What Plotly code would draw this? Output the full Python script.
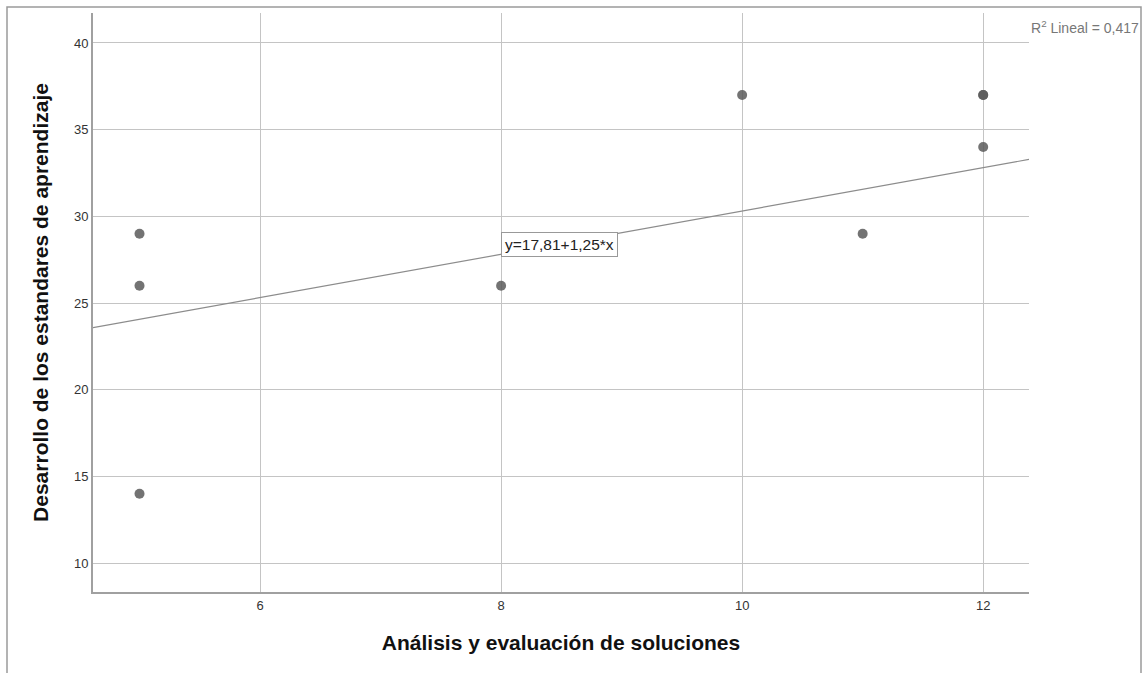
import plotly.graph_objects as go

# Observations: analysis score vs. learning-standards score
analisis = [5, 5, 5, 8, 10, 11, 12, 12, 12]
estandares = [29, 26, 14, 26, 37, 29, 37, 37, 34]

# Fitted linear model reported by the analysis
intercepto = 17.81
pendiente = 1.25
r2 = 0.417

x_ticks = [6, 8, 10, 12]
y_ticks = [10, 15, 20, 25, 30, 35, 40]

x_range = [4.614, 12.38]
y_range = [8.33, 41.73]

font_family = "Arial, Liberation Sans, sans-serif"

fig = go.Figure()

# Regression line across the full x range
fit_x = x_range
fit_y = [intercepto + pendiente * v for v in fit_x]
fig.add_trace(go.Scatter(
    x=fit_x, y=fit_y, mode="lines",
    line=dict(color="#8c8c8c", width=1.2),
    hoverinfo="skip", showlegend=False,
))

fig.add_trace(go.Scatter(
    x=analisis, y=estandares, mode="markers",
    marker=dict(color="rgba(90,90,90,0.85)", size=10, line=dict(width=0)),
    showlegend=False,
))

# Equation label sitting on the line
eq_x = 8.0
fig.add_annotation(
    x=eq_x, y=intercepto + pendiente * eq_x, xref="x", yref="y",
    text="y=17,81+1,25*x", showarrow=False,
    xanchor="left", yanchor="bottom", xshift=0, yshift=-3,
    font=dict(family=font_family, size=15.5, color="#222"),
    bordercolor="#999", borderwidth=1, borderpad=3, bgcolor="white",
)

# R² note in the top-right corner
fig.add_annotation(
    x=1.0, y=0.975, xref="paper", yref="paper",
    text="R<sup>2</sup> Lineal = " + f"{r2:.3f}".replace(".", ","),
    showarrow=False, xanchor="left", yanchor="middle", xshift=0,
    font=dict(family=font_family, size=14, color="#777"),
)

# Outer frame around the whole chart
fig.add_shape(
    type="rect", xref="paper", yref="paper",
    x0=(7 - 93) / 936, x1=(1141 - 93) / 936,
    y0=-0.2, y1=(592 - 7) / 579,
    line=dict(color="#9a9a9a", width=1.5), fillcolor="rgba(0,0,0,0)",
    layer="below",
)

fig.update_layout(
    width=1145, height=673,
    margin=dict(l=93, r=116, t=13, b=81),
    paper_bgcolor="white", plot_bgcolor="white",
    font=dict(family=font_family, color="#333"),
    xaxis=dict(
        range=x_range, tickvals=x_ticks, ticktext=[str(v) for v in x_ticks],
        showgrid=True, gridcolor="#c4c4c4", gridwidth=1.2,
        showline=True, linecolor="#a0a0a0", linewidth=2,
        zeroline=False, ticks="", ticklen=0,
        tickfont=dict(size=13, color="#333"),
        title=dict(text="<b>Análisis y evaluación de soluciones</b>",
                   font=dict(size=21, color="#111"), standoff=24),
    ),
    yaxis=dict(
        range=y_range, tickvals=y_ticks, ticktext=[str(v) for v in y_ticks],
        showgrid=True, gridcolor="#c4c4c4", gridwidth=1.2,
        showline=True, linecolor="#a0a0a0", linewidth=2,
        zeroline=False, ticks="", ticklen=0,
        tickfont=dict(size=13, color="#333"),
        title=dict(text="<b>Desarrollo de los estandares de aprendizaje</b>",
                   font=dict(size=21, color="#111"), standoff=20),
    ),
)

fig.write_html("out.html")
